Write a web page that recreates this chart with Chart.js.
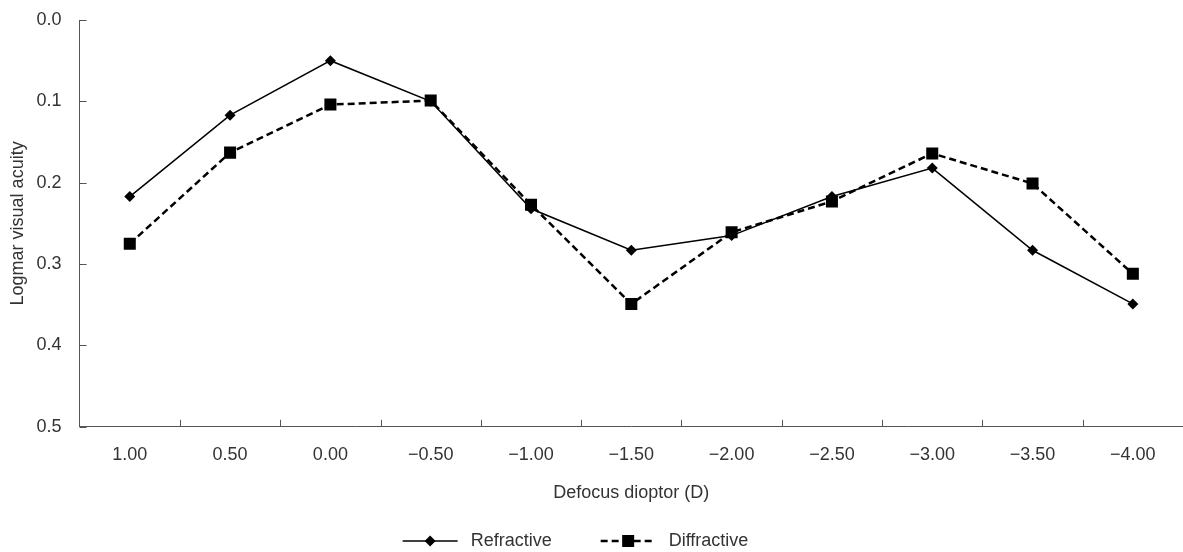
<!DOCTYPE html>
<html>
<head>
<meta charset="utf-8">
<script src="https://cdn.jsdelivr.net/npm/chart.js@4"></script>
<style>
  html, body { margin: 0; padding: 0; background: #fff; }
  #wrap { width: 1183px; height: 552px; }
</style>
</head>
<body>
<div id="wrap"><canvas id="defocusChart"></canvas></div>
<script>
// defocus curve data
const defocusLabels = ['1.00', '0.50', '0.00', '\u22120.50', '\u22121.00', '\u22121.50', '\u22122.00', '\u22122.50', '\u22123.00', '\u22123.50', '\u22124.00'];
const refractive = [0.217, 0.117, 0.050, 0.100, 0.232, 0.283, 0.265, 0.217, 0.182, 0.283, 0.349];
const diffractive = [0.275, 0.163, 0.104, 0.099, 0.227, 0.349, 0.261, 0.223, 0.164, 0.201, 0.312];

const textColor = '#333';
const axisColor = '#555';
const fontFamily = '"Liberation Sans", Arial, sans-serif';
const fontSize = 18;

// tick marks pointing into the plot area
const innerTicks = {
    id: 'innerTicks',
    afterDraw(chart) {
        const ctx = chart.ctx;
        const area = chart.chartArea;
        const x = chart.scales.x;
        const y = chart.scales.y;
        ctx.save();
        ctx.strokeStyle = axisColor;
        ctx.lineWidth = 1;
        ctx.beginPath();
        y.ticks.forEach((t, i) => {
            const py = Math.round(y.getPixelForTick(i)) + 0.5;
            ctx.moveTo(area.left, py);
            ctx.lineTo(area.left + 7, py);
        });
        const half = (x.getPixelForValue(1) - x.getPixelForValue(0)) / 2;
        for (let i = 1; i < defocusLabels.length; i++) {
            const px = Math.round(x.getPixelForValue(i) - half) + 0.5;
            ctx.moveTo(px, area.bottom);
            ctx.lineTo(px, area.bottom - 7);
        }
        ctx.stroke();
        ctx.restore();
    }
};

// legend at the bottom: line + marker, then the series name
const lineLegend = {
    id: 'lineLegend',
    afterDraw(chart) {
        const ctx = chart.ctx;
        const cy = 541;
        const lineW = 55, gapText = 13, gapItem = 49;
        ctx.save();
        ctx.font = fontSize + 'px ' + fontFamily;
        const sets = chart.data.datasets;
        let total = 0;
        sets.forEach((ds, i) => {
            total += lineW + gapText + ctx.measureText(ds.label).width + (i ? 0 : gapItem);
        });
        let x0 = chart.width / 2 - 16 - total / 2;
        sets.forEach((ds, i) => {
            ctx.strokeStyle = '#000';
            ctx.fillStyle = '#000';
            ctx.lineWidth = ds.borderWidth;
            ctx.setLineDash(ds.borderDash || []);
            ctx.beginPath();
            ctx.moveTo(x0, cy);
            ctx.lineTo(x0 + lineW, cy);
            ctx.stroke();
            ctx.setLineDash([]);
            const mx = x0 + lineW / 2;
            ctx.beginPath();
            if (ds.pointStyle === 'rect') {
                ctx.rect(mx - 6, cy - 6, 12, 12);
            } else {
                ctx.moveTo(mx, cy - 5.5); ctx.lineTo(mx + 5.5, cy); ctx.lineTo(mx, cy + 5.5); ctx.lineTo(mx - 5.5, cy); ctx.closePath();
            }
            ctx.fill();
            ctx.fillStyle = textColor;
            ctx.textBaseline = 'middle';
            ctx.fillText(ds.label, x0 + lineW + gapText, cy);
            x0 += lineW + gapText + ctx.measureText(ds.label).width + gapItem;
        });
        ctx.restore();
    }
};

const ctx = document.getElementById('defocusChart').getContext('2d');
new Chart(ctx, {
    type: 'line',
    data: {
        labels: defocusLabels,
        datasets: [
            {
                label: 'Refractive',
                data: refractive,
                borderColor: '#000',
                backgroundColor: '#000',
                borderWidth: 1.5,
                pointStyle: 'rectRot',
                pointRadius: 5.5,
                pointBorderWidth: 0,
                tension: 0
            },
            {
                label: 'Diffractive',
                data: diffractive,
                borderColor: '#000',
                backgroundColor: '#000',
                borderWidth: 2.5,
                borderDash: [7, 4],
                pointStyle: 'rect',
                pointRadius: 8.5,
                pointBorderWidth: 0,
                tension: 0
            }
        ]
    },
    options: {
        responsive: true,
        maintainAspectRatio: false,
        animation: false,
        layout: { autoPadding: false, padding: { top: 20, left: 0, right: 0, bottom: 48 } },
        plugins: {
            tooltip: { enabled: false },
            legend: { display: false }
        },
        scales: {
            x: {
                offset: true,
                // transparent outer ticks only reserve room; visible ticks come from the plugin
                grid: { display: true, drawOnChartArea: false, drawTicks: true, tickLength: 15, color: 'transparent', offset: true },
                border: { display: true, color: axisColor, width: 1 },
                ticks: { color: textColor, padding: 2, font: { family: fontFamily, size: fontSize } },
                title: {
                    display: true,
                    text: 'Defocus dioptor (D)',
                    color: textColor,
                    font: { family: fontFamily, size: fontSize },
                    padding: { top: 15, bottom: 0 }
                }
            },
            y: {
                reverse: true,
                min: 0,
                max: 0.5,
                grid: { display: true, drawOnChartArea: false, drawTicks: true, tickLength: 16, color: 'transparent' },
                border: { display: true, color: axisColor, width: 1 },
                ticks: {
                    stepSize: 0.1,
                    color: textColor,
                    padding: 2,
                    font: { family: fontFamily, size: fontSize },
                    callback: v => v.toFixed(1)
                },
                title: {
                    display: true,
                    text: 'Logmar visual acuity',
                    color: textColor,
                    font: { family: fontFamily, size: fontSize },
                    padding: { top: 7, bottom: 6 }
                }
            }
        }
    },
    plugins: [innerTicks, lineLegend]
});
</script>
</body>
</html>
